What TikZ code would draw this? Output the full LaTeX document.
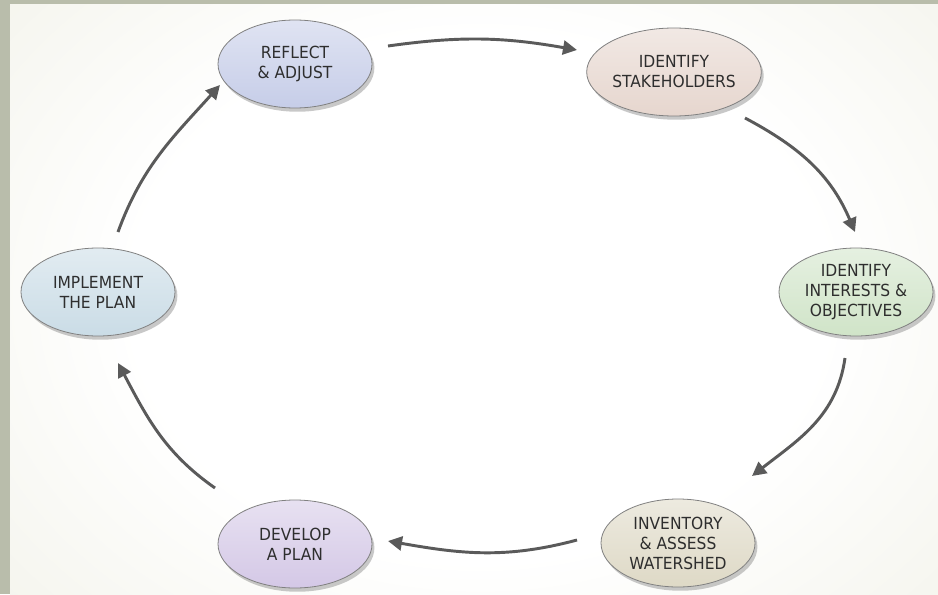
\documentclass[tikz,border=0pt]{standalone}
\usepackage{fontspec}
\usetikzlibrary{shapes.geometric,arrows.meta,shadows,calc}
\newfontfamily\stagefont[FakeStretch=0.93]{DejaVu Sans}
\definecolor{frame}{HTML}{B9BDAB}
\definecolor{panel}{HTML}{F5F5EE}
\definecolor{txt}{HTML}{2E2E2E}
\definecolor{arrowgray}{HTML}{5A5A5A}
\definecolor{cReflect}{HTML}{C6CDE8}
\definecolor{cStake}{HTML}{E6D6CE}
\definecolor{cInter}{HTML}{D0E4C8}
\definecolor{cInv}{HTML}{DED9C6}
\definecolor{cDev}{HTML}{D4C8E6}
\definecolor{cImpl}{HTML}{CADCE6}
\pgfdeclareradialshading{glow}{\pgfpoint{0bp}{0bp}}{color(0bp)=(white); color(14bp)=(white); color(25bp)=(panel); color(50bp)=(panel)}
\tikzset{
  stage/.style={ellipse, minimum width=115.5pt, minimum height=66pt, inner sep=0pt,
    draw=black!50, line width=0.6pt, align=center, text=txt,
    font=\stagefont\fontsize{12.5}{15}\selectfont,
    top color=white!45!#1, bottom color=#1,
    drop shadow={shadow xshift=1.8pt, shadow yshift=-2.8pt, opacity=0.3, fill=black!70}},
  arr/.style={draw=arrowgray, line width=2.2pt, -{Triangle[length=10.5pt,width=10.5pt]}}
}
\begin{document}
\begin{tikzpicture}[x=0.75pt,y=0.75pt]
\useasboundingbox (0,0) rectangle (938,594);
\fill[frame] (0,0) rectangle (938,594);
\fill[panel] (10,0) rectangle (938,589);
\begin{scope}
  \clip (10,0) rectangle (938,589);
  \shade[shading=glow] (480,297) ellipse (620 and 470);
\end{scope}
\node[stage=cReflect] (R) at (295,530) {REFLECT\\\& ADJUST};
\node[stage=cStake] (S) at (674,522) {IDENTIFY\\STAKEHOLDERS};
\node[stage=cInter] (I) at (856,302) {IDENTIFY\\INTERESTS \&\\OBJECTIVES};
\node[stage=cInv] (V) at (678,51) {INVENTORY\\\& ASSESS\\WATERSHED};
\node[stage=cDev] (D) at (295,50) {DEVELOP\\A PLAN};
\node[stage=cImpl] (M) at (98,302) {IMPLEMENT\\THE PLAN};
\draw[arr] ($(R)+(93,18)$) to[out=8,in=170] ($(S)+(-97,22)$);
\draw[arr] ($(S)+(71,-46)$) to[out=-28,in=113] ($(I)+(-1,60)$);
\draw[arr] ($(I)+(-11,-66)$) to[out=-98,in=38] ($(V)+(74,67)$);
\draw[arr] ($(V)+(-101,3)$) to[out=195,in=-10] ($(D)+(93,3)$);
\draw[arr] ($(D)+(-80,56)$) to[out=145,in=-62] ($(M)+(20,-71)$);
\draw[arr] ($(M)+(20,60)$) to[out=70,in=228] ($(R)+(-75,-21)$);
\end{tikzpicture}
\end{document}
